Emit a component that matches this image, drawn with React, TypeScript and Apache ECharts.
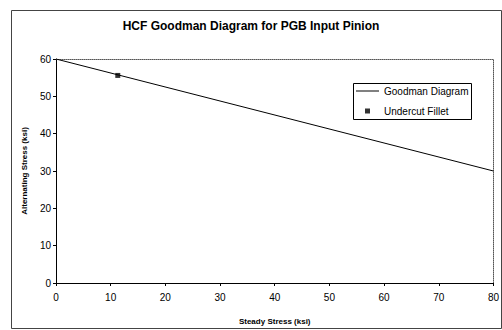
import React, { useEffect, useRef } from "react";
import * as echarts from "echarts";

const titleText = "HCF Goodman Diagram for PGB Input Pinion";
const xName = "Steady Stress (ksi)";
const yName = "Alternating Stress (ksi)";
const goodmanName = "Goodman Diagram";
const filletName = "Undercut Fillet";
const goodmanSteady = [0, 80];
const goodmanAlt = [60, 30];
const filletSteady = [11.3];
const filletAlt = [55.6];

export default function App() {
  const ref = useRef<HTMLDivElement>(null);
  useEffect(() => {
    if (!ref.current) return;
    const chart = echarts.init(ref.current, null, { renderer: "svg" });
    const font = "'Liberation Sans', Arial, sans-serif";
    chart.setOption({
      animation: false,
      backgroundColor: "#fff",
      textStyle: { fontFamily: font },
      title: {
        text: titleText,
        left: "center",
        top: 15,
        textStyle: { fontSize: 12, fontWeight: "bold", color: "#000", fontFamily: font },
      },
      grid: { left: 56, right: 6, top: 59, bottom: 47 },
      legend: [
        {
          data: [{ name: goodmanName, icon: "path://M0,0h23v1h-23z" }],
          orient: "vertical",
          left: 356,
          top: 86,
          padding: 0,
          itemWidth: 23,
          itemHeight: 1,
          symbolKeepAspect: true,
          textStyle: { fontSize: 10, color: "#000", fontFamily: font },
        },
        {
          data: [{ name: filletName, icon: "path://M0,0M23,5M9,0h5v5h-5z" }],
          orient: "vertical",
          left: 356,
          top: 106,
          padding: 0,
          itemWidth: 23,
          itemHeight: 5,
          symbolKeepAspect: true,
          textStyle: { fontSize: 10, color: "#000", fontFamily: font },
        },
      ],
      graphic: [
        {
          type: "rect",
          shape: { x: 11.5, y: 10.5, width: 490, height: 318 },
          style: { fill: "none", stroke: "#444", lineWidth: 1 },
          silent: true,
        },
        {
          type: "rect",
          shape: { x: 353.5, y: 83.5, width: 118, height: 36 },
          style: { fill: "none", stroke: "#000", lineWidth: 1 },
          silent: true,
        },
      ],
      xAxis: [
        {
          type: "value",
          min: 0,
          max: 80,
          interval: 10,
          name: xName,
          nameLocation: "middle",
          nameGap: 34,
          nameTextStyle: { fontSize: 8, fontWeight: "bold", color: "#000", fontFamily: font },
          axisLine: { show: true, onZero: false, lineStyle: { color: "#000", width: 1 } },
          axisTick: { show: true, length: 3, lineStyle: { color: "#000" } },
          axisLabel: { fontSize: 10, color: "#000", margin: 9, fontFamily: font },
          splitLine: { show: false },
        },
        {
          type: "value",
          position: "top",
          min: 0,
          max: 80,
          interval: 10,
          axisLine: { show: true, onZero: false, lineStyle: { color: "#555", width: 1, type: "dotted" } },
          axisTick: { show: false },
          axisLabel: { show: false },
          splitLine: { show: false },
        },
      ],
      yAxis: [
        {
          type: "value",
          min: 0,
          max: 60,
          interval: 10,
          name: yName,
          nameLocation: "middle",
          nameGap: 28,
          nameTextStyle: { fontSize: 8, fontWeight: "bold", color: "#000", fontFamily: font },
          axisLine: { show: true, onZero: false, lineStyle: { color: "#000", width: 1 } },
          axisTick: { show: true, length: 3, lineStyle: { color: "#000" } },
          axisLabel: { fontSize: 10, color: "#000", margin: 5, fontFamily: font },
          splitLine: { show: false },
        },
        {
          type: "value",
          position: "right",
          min: 0,
          max: 60,
          interval: 10,
          axisLine: { show: true, onZero: false, lineStyle: { color: "#555", width: 1, type: "dotted" } },
          axisTick: { show: false },
          axisLabel: { show: false },
          splitLine: { show: false },
        },
      ],
      series: [
        {
          name: goodmanName,
          type: "line",
          symbol: "none",
          data: goodmanSteady.map((x, i) => [x, goodmanAlt[i]]),
          lineStyle: { color: "#000", width: 1 },
          itemStyle: { color: "#000" },
        },
        {
          name: filletName,
          type: "scatter",
          symbol: "rect",
          symbolSize: 5,
          data: filletSteady.map((x, i) => [x, filletAlt[i]]),
          itemStyle: { color: "#000" },
        },
      ],
    });
    return () => chart.dispose();
  }, []);
  return <div ref={ref} style={{ width: 502, height: 330, position: "absolute", left: 0, top: 0 }} />;
}
